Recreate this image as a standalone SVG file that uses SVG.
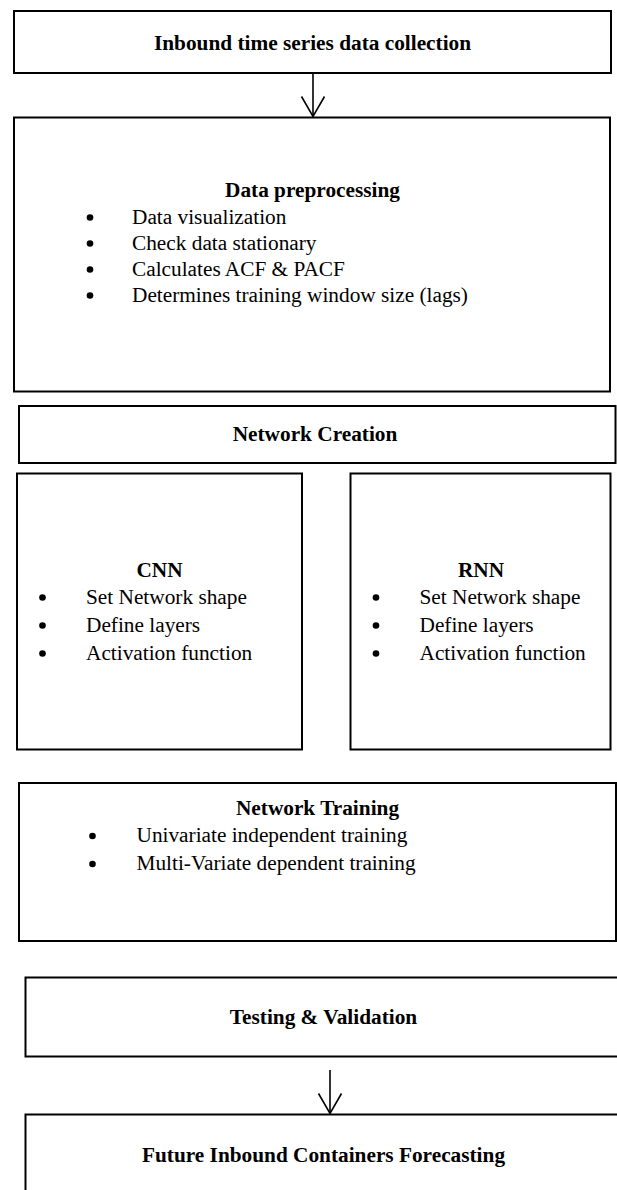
<svg xmlns="http://www.w3.org/2000/svg" width="617" height="1190" viewBox="0 0 617 1190">
  <style>
    .box { fill: #ffffff; stroke: #000000; stroke-width: 2; }
    .title { font-family: "Liberation Serif", "Times New Roman", serif; font-size: 21.3px; font-weight: bold; fill: #000000; text-anchor: middle; }
    .item { font-family: "Liberation Serif", "Times New Roman", serif; font-size: 21.3px; fill: #000000; }
    .dot { fill: #000000; }
    .conn { fill: none; stroke: #000000; stroke-width: 1.6; }
  </style>
  <defs>
    <marker id="vhead" markerUnits="userSpaceOnUse" markerWidth="26" markerHeight="30" viewBox="-23 -15 26 30" refX="0" refY="0" orient="auto">
      <path d="M -20 -11.5 L 0 0 L -20 11.5" fill="none" stroke="#000000" stroke-width="1.6"/>
    </marker>
  </defs>
  <rect x="0" y="0" width="617" height="1190" fill="#ffffff"/>

  <g id="connectors">
    <line class="conn" x1="313" y1="73" x2="313" y2="116.5" marker-end="url(#vhead)"/>
    <line class="conn" x1="330" y1="1070" x2="330" y2="1113.5" marker-end="url(#vhead)"/>
  </g>

  <g id="collection">
    <rect class="box" x="14" y="11" width="597" height="62"/>
    <text class="title" x="312.5" y="49.5">Inbound time series data collection</text>
  </g>

  <g id="preprocessing">
    <rect class="box" x="14" y="117.5" width="596" height="274"/>
    <text class="title" x="312.5" y="197">Data preprocessing</text>
    <circle class="dot" cx="90" cy="217.5" r="3.3"/>
    <circle class="dot" cx="90" cy="243.5" r="3.3"/>
    <circle class="dot" cx="90" cy="269.5" r="3.3"/>
    <circle class="dot" cx="90" cy="295.5" r="3.3"/>
    <text class="item" x="132" y="224">Data visualization</text>
    <text class="item" x="132" y="250">Check data stationary</text>
    <text class="item" x="132" y="276">Calculates ACF &amp; PACF</text>
    <text class="item" x="132" y="302">Determines training window size (lags)</text>
  </g>

  <g id="network-creation">
    <rect class="box" x="19" y="406" width="596.5" height="57"/>
    <text class="title" x="315" y="441">Network Creation</text>
  </g>

  <g id="cnn">
    <rect class="box" x="17" y="473.5" width="285" height="276"/>
    <text class="title" x="159.5" y="577">CNN</text>
    <circle class="dot" cx="42.5" cy="597.5" r="3.3"/>
    <circle class="dot" cx="42.5" cy="625.5" r="3.3"/>
    <circle class="dot" cx="42.5" cy="653.5" r="3.3"/>
    <text class="item" x="86" y="604">Set Network shape</text>
    <text class="item" x="86" y="632">Define layers</text>
    <text class="item" x="86" y="660">Activation function</text>
  </g>

  <g id="rnn">
    <rect class="box" x="350.5" y="473.5" width="260" height="276"/>
    <text class="title" x="481" y="577">RNN</text>
    <circle class="dot" cx="376" cy="597.5" r="3.3"/>
    <circle class="dot" cx="376" cy="625.5" r="3.3"/>
    <circle class="dot" cx="376" cy="653.5" r="3.3"/>
    <text class="item" x="419.5" y="604">Set Network shape</text>
    <text class="item" x="419.5" y="632">Define layers</text>
    <text class="item" x="419.5" y="660">Activation function</text>
  </g>

  <g id="network-training">
    <rect class="box" x="19" y="783" width="597" height="158"/>
    <text class="title" x="317.5" y="815">Network Training</text>
    <circle class="dot" cx="92.5" cy="836" r="3.3"/>
    <circle class="dot" cx="92.5" cy="864" r="3.3"/>
    <text class="item" x="136.5" y="842">Univariate independent training</text>
    <text class="item" x="136.5" y="870">Multi-Variate dependent training</text>
  </g>

  <g id="testing">
    <rect class="box" x="25.5" y="977.5" width="597" height="79"/>
    <text class="title" x="323.5" y="1024">Testing &amp; Validation</text>
  </g>

  <g id="forecasting">
    <rect class="box" x="25.5" y="1114.5" width="597" height="90"/>
    <text class="title" x="323.5" y="1162">Future Inbound Containers Forecasting</text>
  </g>
</svg>
